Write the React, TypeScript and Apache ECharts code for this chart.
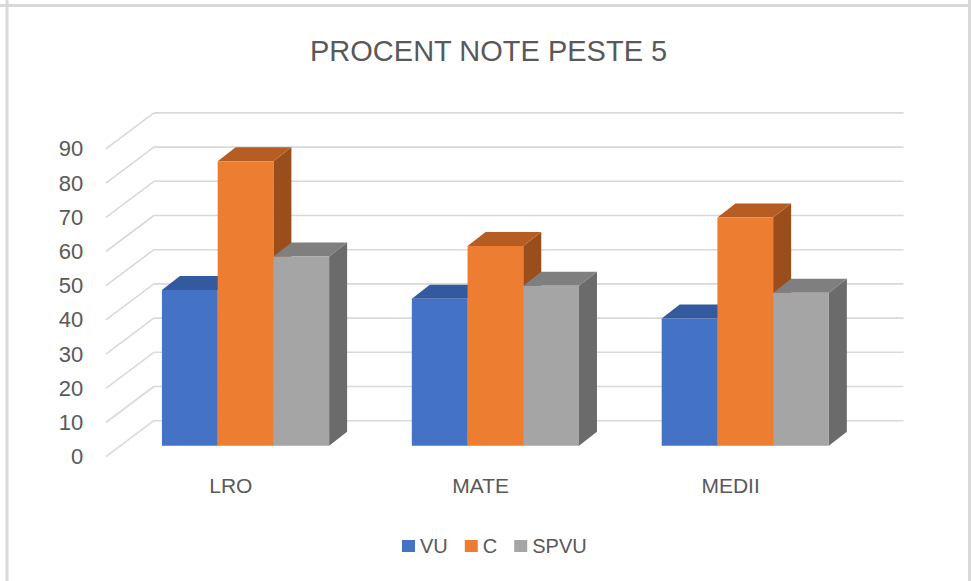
import React, { useEffect, useRef } from "react";
import * as echarts from "echarts";

const categories = ["LRO", "MATE", "MEDII"];
const seriesNames = ["VU", "C", "SPVU"];
const vuValues = [45.5, 43, 37.2];
const cValues = [83.2, 58.4, 66.7];
const spvuValues = [55.3, 46.8, 44.7];
const yTicks = [0, 10, 20, 30, 40, 50, 60, 70, 80, 90];

const faceColors = [
  { front: "#4472C4", top: "#335A9E", side: "#2B4C86" },
  { front: "#ED7D31", top: "#B55D22", side: "#9A4E1C" },
  { front: "#A5A5A5", top: "#7F7F7F", side: "#6B6B6B" },
];

const FONT = "'Liberation Sans', Arial, sans-serif";
const TEXT_COLOR = "#595959";
const GRID_COLOR = "#D9D9D9";

// 3D projection constants (pixels)
const WALL_DX = 48;
const WALL_DY = 36;
const PLANE_DX = 14.7; // front plane -> bar plane
const PLANE_DY = 11;
const BAR_DX = 18;
const BAR_DY = 14;
const BAR_FRAC = 0.223;

export default function App() {
  const ref = useRef<HTMLDivElement>(null);

  useEffect(() => {
    if (!ref.current) return;
    const chart = echarts.init(ref.current, undefined, { renderer: "svg" });
    const allValues = [vuValues, cValues, spvuValues];

    const barSeries = allValues.map((vals, s) => ({
      type: "custom",
      name: seriesNames[s],
      xAxisIndex: 0,
      yAxisIndex: 0,
      z: 3 + s,
      itemStyle: { color: faceColors[s].front },
      data: vals.map((v, i) => [i, v]),
      renderItem: (params: any, api: any) => {
        const ci = api.value(0);
        const v = api.value(1);
        const top = api.coord([ci, v]);
        const base = api.coord([ci, 0]);
        const band = api.size([1, 0])[0];
        const w = band * BAR_FRAC;
        const x0 = top[0] - 1.5 * w + s * w;
        const yT = top[1];
        const yB = base[1];
        const c = faceColors[s];
        return {
          type: "group",
          children: [
            {
              type: "polygon",
              shape: {
                points: [
                  [x0 + w, yT],
                  [x0 + w + BAR_DX, yT - BAR_DY],
                  [x0 + w + BAR_DX, yB - BAR_DY],
                  [x0 + w, yB],
                ],
              },
              style: { fill: c.side },
            },
            {
              type: "polygon",
              shape: {
                points: [
                  [x0, yT],
                  [x0 + w, yT],
                  [x0 + w + BAR_DX, yT - BAR_DY],
                  [x0 + BAR_DX, yT - BAR_DY],
                ],
              },
              style: { fill: c.top },
            },
            {
              type: "rect",
              shape: { x: x0, y: yT, width: w, height: yB - yT },
              style: { fill: c.front },
            },
          ],
        };
      },
    }));

    const wallSeries = {
      type: "custom",
      name: "walls",
      xAxisIndex: 0,
      yAxisIndex: 0,
      z: 1,
      silent: true,
      data: yTicks.map((v) => [0, v]),
      renderItem: (params: any, api: any) => {
        const cs = params.coordSys;
        const y = api.coord([0, api.value(1)])[1];
        const fx = cs.x - PLANE_DX;
        const fy = y + PLANE_DY;
        const bx = fx + WALL_DX;
        const by = fy - WALL_DY;
        const style = { stroke: GRID_COLOR, lineWidth: 1.6, fill: null };
        return {
          type: "group",
          children: [
            { type: "line", shape: { x1: fx, y1: fy, x2: bx, y2: by }, style },
            { type: "line", shape: { x1: bx, y1: by, x2: bx + cs.width, y2: by }, style },
          ],
        };
      },
    };

    chart.setOption({
      animation: false,
      backgroundColor: "#ffffff",
      title: {
        text: "PROCENT NOTE PESTE 5",
        left: 305,
        top: 31,
        textStyle: { fontFamily: FONT, fontSize: 29, fontWeight: "normal", color: TEXT_COLOR },
      },
      legend: {
        data: seriesNames,
        left: 402,
        top: 536,
        padding: 0,
        icon: "rect",
        itemWidth: 13,
        itemHeight: 12,
        itemGap: 17,
        textStyle: { fontFamily: FONT, fontSize: 20, color: TEXT_COLOR },
      },
      grid: [
        { left: 120.6, right: 100.8, top: 137.9, bottom: 135.3 },
        { left: 105.9, right: 115.5, top: 148.9, bottom: 124.3 },
      ],
      xAxis: [
        {
          type: "category",
          gridIndex: 0,
          data: categories,
          show: false,
        },
        {
          type: "category",
          gridIndex: 1,
          data: categories,
          axisLine: { show: false },
          axisTick: { show: false },
          splitLine: { show: false },
          axisLabel: { fontFamily: FONT, fontSize: 21, color: TEXT_COLOR, margin: 18 },
        },
      ],
      yAxis: [
        { type: "value", gridIndex: 0, min: 0, max: 90, interval: 10, show: false },
        {
          type: "value",
          gridIndex: 1,
          min: 0,
          max: 90,
          interval: 10,
          axisLine: { show: false },
          axisTick: { show: false },
          splitLine: { show: false },
          axisLabel: { fontFamily: FONT, fontSize: 22, color: TEXT_COLOR, margin: 22.6 },
        },
      ],
      graphic: [
        { type: "line", shape: { x1: 0, y1: 5.5, x2: 971, y2: 5.5 }, style: { stroke: GRID_COLOR, lineWidth: 3 } },
        { type: "line", shape: { x1: 7, y1: 0, x2: 7, y2: 581 }, style: { stroke: GRID_COLOR, lineWidth: 3 } },
        { type: "line", shape: { x1: 969.5, y1: 0, x2: 969.5, y2: 581 }, style: { stroke: GRID_COLOR, lineWidth: 3 } },
      ],
      series: [wallSeries, ...barSeries],
    });

    return () => chart.dispose();
  }, []);

  return (
    <div
      ref={ref}
      style={{ position: "fixed", left: 0, top: 0, width: 971, height: 581 }}
    />
  );
}
